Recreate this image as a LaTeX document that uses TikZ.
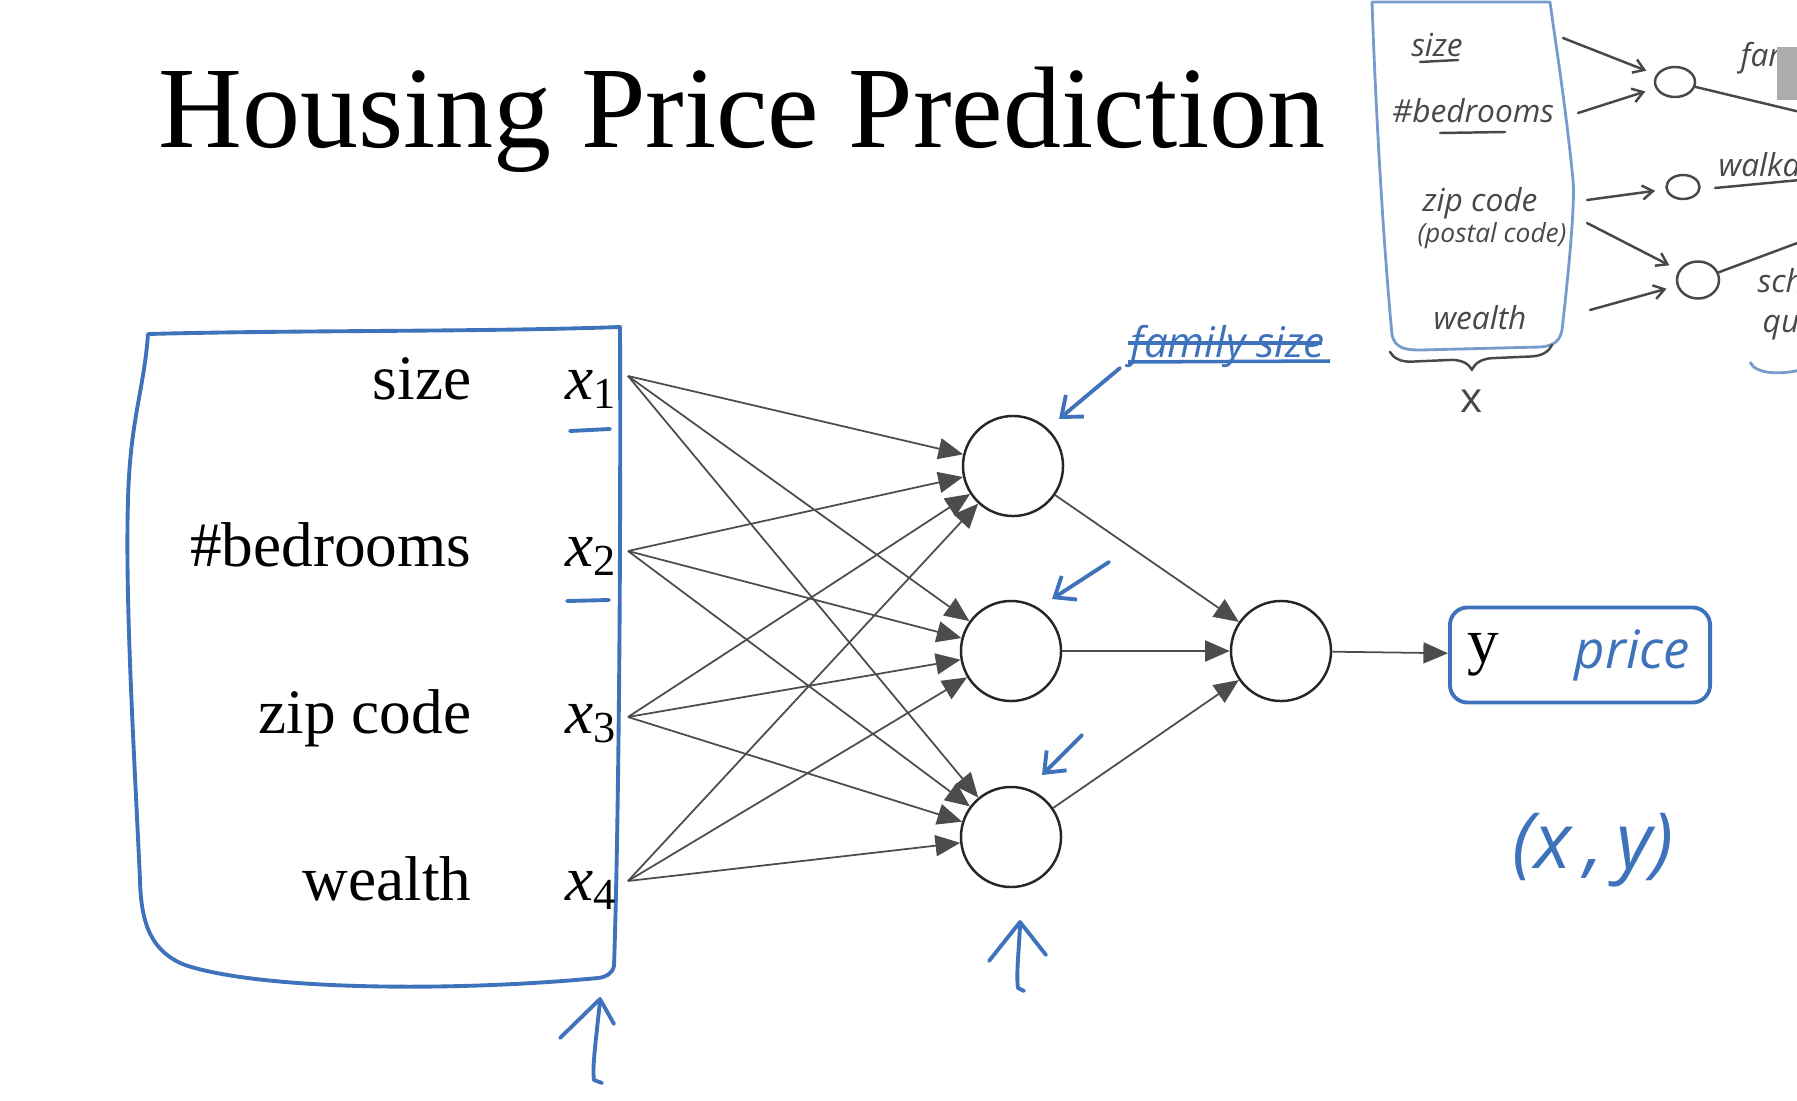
\documentclass[tikz,border=0pt]{standalone}
\usepackage{fontspec}
\setmainfont{Liberation Serif}
\newfontfamily\handfont{Open Sans}
\usepackage{tikz}
\usetikzlibrary{
  arrows.meta,
  positioning,
  shapes.geometric,
  decorations.pathreplacing
}
\definecolor{inkblue}{RGB}{62,114,186}
\definecolor{paleblue}{RGB}{120,155,205}
\definecolor{pencil}{RGB}{72,72,72}
\tikzset{
  wire/.style        = {-{Triangle[length=7pt, width=6pt]}, line width=0.5pt, black!70},
  neuron/.style      = {draw, circle, minimum size=1cm, inner sep=0pt,
                        line width=0.7pt, black!85},
  inkline/.style     = {inkblue, line width=1.1pt, line cap=round, line join=round},
  inkarrow/.style    = {inkline, -{Straight Barb[length=5pt, width=8pt]}},
  pencilline/.style  = {pencil, line width=0.7pt, line cap=round},
  pencilarrow/.style = {pencilline, -{Straight Barb[length=3pt, width=4pt]},
                        shorten >=3pt},
  sketchnode/.style  = {draw=pencil, ellipse, inner sep=0pt, line width=0.7pt},
  feat/.style        = {anchor=base east, inner sep=0pt,
                        font=\fontsize{18}{20}\selectfont},
  hand/.style        = {inner sep=0pt, font=\handfont\itshape},
}

\begin{document}
\begin{tikzpicture}[x=0.01cm, y=-0.01cm]
    \useasboundingbox (0,0) rectangle (1797,1100);
    \clip (0,0) rectangle (1797,1100);

    % Title
    \node[anchor=base west, inner sep=0pt, font=\fontsize{33}{36}\selectfont]
        (title) at (158,147) {Housing Price Prediction};

    % Input box (hand drawn)
    \draw[inkline] (148,334) .. controls (300,330) and (480,332) .. (620,327)
        .. controls (621,600) and (618,850) .. (614,966)
        .. controls (612,974) and (606,977) .. (598,978)
        .. controls (450,992) and (260,990) .. (185,965)
        .. controls (152,952) and (141,925) .. (140,880)
        .. controls (134,750) and (125,600) .. (128,500)
        .. controls (130,420) and (144,390) .. (148,334);

    % Features and inputs
    \foreach \lab/\yy/\yc [count=\i] in {size/399/376, \#bedrooms/566/551,
                                        zip code/733/717, wealth/900/881} {
        \node[feat] (feat\i) at (472,\yy) {\lab};
        \node[feat, anchor=base west] (x\i) at (565,\yy) {\textit{x}\textsubscript{\i}};
        \coordinate (in\i) at (628,\yc);
    }
    \draw[inkline] (570,431) -- (610,429);
    \draw[inkline] (567,601) -- (609,600);

    % Hidden layer and output
    \node[neuron] (hid1) at (1013,466) {};
    \node[neuron] (hid2) at (1011,651) {};
    \node[neuron] (hid3) at (1011,837) {};
    \node[neuron] (out)  at (1281,651) {};

    \node[draw=inkblue, line width=1.1pt, rounded corners=5pt,
          minimum width=2.6cm, minimum height=0.95cm] (ybox) at (1580,655) {};
    \node[feat, anchor=base west] (ylab) at (1467,662) {y};
    \node[hand, anchor=base west, inkblue, font=\handfont\itshape\fontsize{15}{17}\selectfont]
        (price) at (1574,668) {price};

    \foreach \i in {1,...,4} {
        \foreach \j in {1,2,3} {
            \draw[wire] (in\i) -- (hid\j);
        }
    }
    \foreach \j in {1,2,3} {
        \draw[wire] (hid\j) -- (out);
    }
    \draw[wire] (out) -- (ybox);

    % Pair label
    \node[hand, inkblue, font=\handfont\itshape\fontsize{22}{24}\selectfont]
        (pair) at (1593,850) {(x\,,\,y)};

    % Struck out note
    \node[hand, inkblue, font=\handfont\itshape\fontsize{12}{14}\selectfont]
        (famsize) at (1228,346) {family size};
    \draw[inkblue, line width=1pt] (1128,343) -- (1322,343);
    \draw[inkblue, line width=1pt] (1128,362) -- (1330,361);

    % Hand drawn arrows
    \draw[inkarrow] (1120,368) -- (1059,419);
    \draw[inkarrow] (1109,562) -- (1052,599);
    \draw[inkarrow] (1082,735) -- (1042,775);
    \draw[inkline] (560,1038) -- (600,999) -- (614,1024);
    \draw[inkline] (600,1001) .. controls (596,1040) and (592,1068) .. (594,1080) -- (602,1083);
    \draw[inkline] (989,961) -- (1020,922) -- (1046,955);
    \draw[inkline] (1020,925) .. controls (1019,950) and (1016,975) .. (1018,988) -- (1024,991);

    % Sketch in the corner
    \draw[paleblue, line width=0.8pt, line cap=round]
        (1372,2) -- (1550,2)
        (1372,2) .. controls (1376,120) and (1384,250) .. (1392,335)
        .. controls (1395,348) and (1405,350) .. (1420,350) -- (1540,347)
        .. controls (1555,346) and (1560,340) .. (1562,330)
        .. controls (1570,260) and (1575,200) .. (1573,180)
        .. controls (1565,100) and (1555,40) .. (1550,2);

    \node[hand, pencil, font=\handfont\itshape\fontsize{9}{10}\selectfont] (sksize) at (1437,45) {size};
    \node[hand, pencil, font=\handfont\itshape\fontsize{9}{10}\selectfont] (skbed) at (1473,111) {\#bedrooms};
    \node[hand, pencil, font=\handfont\itshape\fontsize{9}{10}\selectfont] (skzip) at (1480,203) {zip code};
    \node[hand, pencil, font=\handfont\itshape\fontsize{7.5}{9}\selectfont] (skpost) at (1492,236) {(postal code)};
    \node[hand, pencil, font=\handfont\itshape\fontsize{9}{10}\selectfont] (skwealth) at (1480,318) {wealth};
    \draw[pencilline] (1420,62) -- (1458,60);
    \draw[pencilline] (1440,133) -- (1505,132);
    \draw[pencilline, decorate, decoration={brace, amplitude=6pt, mirror}]
        (1390,352) -- (1552,345);
    \node[hand, pencil, font=\handfont\fontsize{12}{14}\selectfont] (skx) at (1472,401) {x};

    \node[sketchnode, minimum width=0.4cm, minimum height=0.3cm]  (sk1) at (1675,82) {};
    \node[sketchnode, minimum width=0.33cm, minimum height=0.24cm] (sk2) at (1683,187) {};
    \node[sketchnode, minimum width=0.42cm, minimum height=0.37cm] (sk3) at (1698,280) {};

    \coordinate (sa1) at (1563,38);
    \coordinate (sa2) at (1578,113);
    \coordinate (sa3) at (1587,200);
    \coordinate (sa4) at (1587,223);
    \coordinate (sa5) at (1590,310);
    \draw[pencilarrow] (sa1) -- (sk1);
    \draw[pencilarrow] (sa2) -- (sk1);
    \draw[pencilarrow] (sa3) -- (sk2);
    \draw[pencilarrow] (sa4) -- (sk3);
    \draw[pencilarrow] (sa5) -- (sk3);

    \coordinate (se1) at (1800,112);
    \coordinate (se3) at (1800,242);
    \draw[pencilline] (sk1) -- (se1);
    \draw[pencilline] (sk3) -- (se3);

    \node[hand, pencil, anchor=base west, font=\handfont\itshape\fontsize{9}{10}\selectfont]
        (skfam) at (1740,66) {family size};
    \node[hand, pencil, anchor=base west, font=\handfont\itshape\fontsize{9}{10}\selectfont]
        (skwalk) at (1718,176) {walkability};
    \draw[pencilline] (1715,188) -- (1800,180);
    \node[hand, pencil, anchor=base west, font=\handfont\itshape\fontsize{9}{10}\selectfont]
        (skschool) at (1757,292) {school};
    \node[hand, pencil, anchor=base west, font=\handfont\itshape\fontsize{9}{10}\selectfont]
        (skqual) at (1762,332) {quality};
    \draw[paleblue, line width=0.8pt] (1750,362) .. controls (1755,374) and (1780,375) .. (1800,370);

    % Overlay patch
    \fill[gray!65] (1777,47) rectangle (1797,100);
\end{tikzpicture}
\end{document}
